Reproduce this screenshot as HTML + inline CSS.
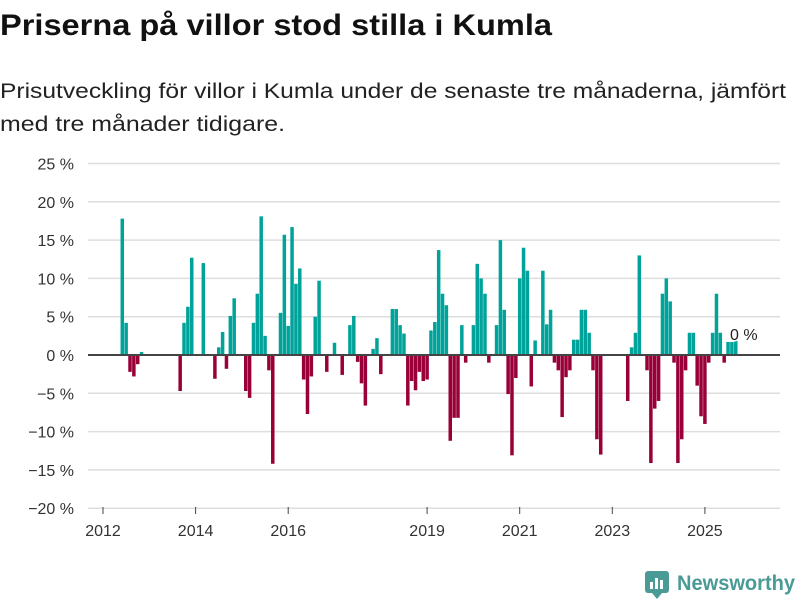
<!DOCTYPE html>
<html><head><meta charset="utf-8"><style>
body{margin:0;background:#fff;width:800px;height:600px;overflow:hidden;font-family:"Liberation Sans",sans-serif;}
</style></head><body>
<svg width="800" height="600" style="position:absolute;left:0;top:0">
<text x="0" y="35" font-size="30" font-weight="bold" fill="#111" textLength="552" lengthAdjust="spacingAndGlyphs">Priserna på villor stod stilla i Kumla</text>
<text x="0" y="98" font-size="21" fill="#222" textLength="786" lengthAdjust="spacingAndGlyphs">Prisutveckling för villor i Kumla under de senaste tre månaderna, jämfört</text>
<text x="0" y="131" font-size="21" fill="#222" textLength="285" lengthAdjust="spacingAndGlyphs">med tre månader tidigare.</text>
<g id="grid"></g><g id="bars"></g><g id="axes"></g>
<g>
<rect x="645" y="571" width="24" height="22" rx="3" fill="#4a9a96"/>
<polygon points="652,593 662,593 657,599" fill="#4a9a96"/>
<rect x="650" y="582" width="3" height="7" fill="#fff"/><rect x="655" y="578" width="3" height="11" fill="#fff"/><rect x="660" y="580" width="3" height="9" fill="#fff"/>
<text x="677" y="590" font-size="21" font-weight="bold" fill="#4a9a96" textLength="118" lengthAdjust="spacingAndGlyphs">Newsworthy</text>
</g>
</svg>
<script>
const startYear = 2012;
const yTicks = [25,20,15,10,5,0,-5,-10,-15,-20];
const xTickYears = [2012,2014,2016,2019,2021,2023,2025];
const values = [null,null,null,null,null,17.8,4.2,-2.2,-2.8,-1.2,0.4,
null,null,null,null,null,null,null,null,null,
-4.7,4.2,6.3,12.7,null,null,12.0,null,null,-3.1,1.0,3.0,-1.8,5.1,7.4,null,null,-4.7,-5.6,4.2,8.0,18.1,2.5,-2.0,-14.2,null,5.5,15.7,3.8,16.7,9.3,11.3,-3.2,-7.7,-2.8,5.0,9.7,0.1,-2.2,null,1.6,null,-2.6,null,3.9,5.1,-0.9,-3.7,-6.6,null,0.8,2.2,-2.5,null,null,6.0,6.0,3.9,2.8,-6.6,-3.4,-4.6,-2.2,-3.4,-3.2,3.2,4.3,13.7,8.0,6.5,-11.2,-8.2,-8.2,3.9,-1.0,null,3.9,11.9,10.0,8.0,-1.0,null,3.9,15.0,5.9,-5.1,-13.1,-3.0,10.0,14.0,11.0,-4.1,1.9,null,11.0,4.0,5.9,-1.0,-2.0,-8.1,-2.9,-2.0,2.0,2.0,5.9,5.9,2.9,-2.0,-11.0,-13.0,null,null,null,null,null,null,-6.0,1.0,2.9,13.0,null,-2.0,-14.1,-7.0,-6.0,8.0,10.0,7.0,-1.0,-14.1,-11.0,-2.0,2.9,2.9,-4.0,-8.0,-9.0,-1.0,2.9,8.0,2.9,-1.0,1.7,1.7,2.0];
const lastLabel = "0 %";
const NS="http://www.w3.org/2000/svg";
function y(v){return 355 - v*7.66;}
function x(t){return 103 + (t-startYear)*46.3;}
function mk(tag,attrs,parent){const e=document.createElementNS(NS,tag);for(const k in attrs)e.setAttribute(k,attrs[k]);parent.appendChild(e);return e;}
const grid=document.getElementById('grid'),bars=document.getElementById('bars'),axes=document.getElementById('axes');
yTicks.forEach(v=>{
  const l=mk('line',{x1:88,x2:780,y1:y(v),y2:y(v),stroke:'#dedede','stroke-width':1.5},grid);
  
  
  const t=mk('text',{x:74,y:y(v)+6,'text-anchor':'end','font-size':16,fill:'#333'},axes);
  t.textContent=(v<0?'\u2212'+(-v):v)+' %';
  
  
});
const bw=3.5;
values.forEach((v,i)=>{
  if(v===null)return;
  const cx=x(startYear+i/12);
  const r=mk('rect',{x:cx-bw/2,width:bw,y:Math.min(y(v),y(0)),height:Math.abs(y(v)-y(0)),fill:v>=0?'#00a39a':'#990038'},bars);
  
  
});
const z=mk('line',{x1:88,x2:780,y1:y(0),y2:y(0),stroke:'#444','stroke-width':2},axes);


xTickYears.forEach(yr=>{
  const tk=mk('line',{x1:x(yr),x2:x(yr),y1:507,y2:514,stroke:'#444','stroke-width':1},axes);
  
  
  const t=mk('text',{x:x(yr),y:536,'text-anchor':'middle','font-size':16,fill:'#333'},axes);
  t.textContent=yr;
  
  
});
const lbl=mk('text',{x:730,y:340,'font-size':16,fill:'#222',stroke:'#fff','stroke-width':3,'paint-order':'stroke'},axes);
lbl.textContent=lastLabel;


</script>
</body></html>
